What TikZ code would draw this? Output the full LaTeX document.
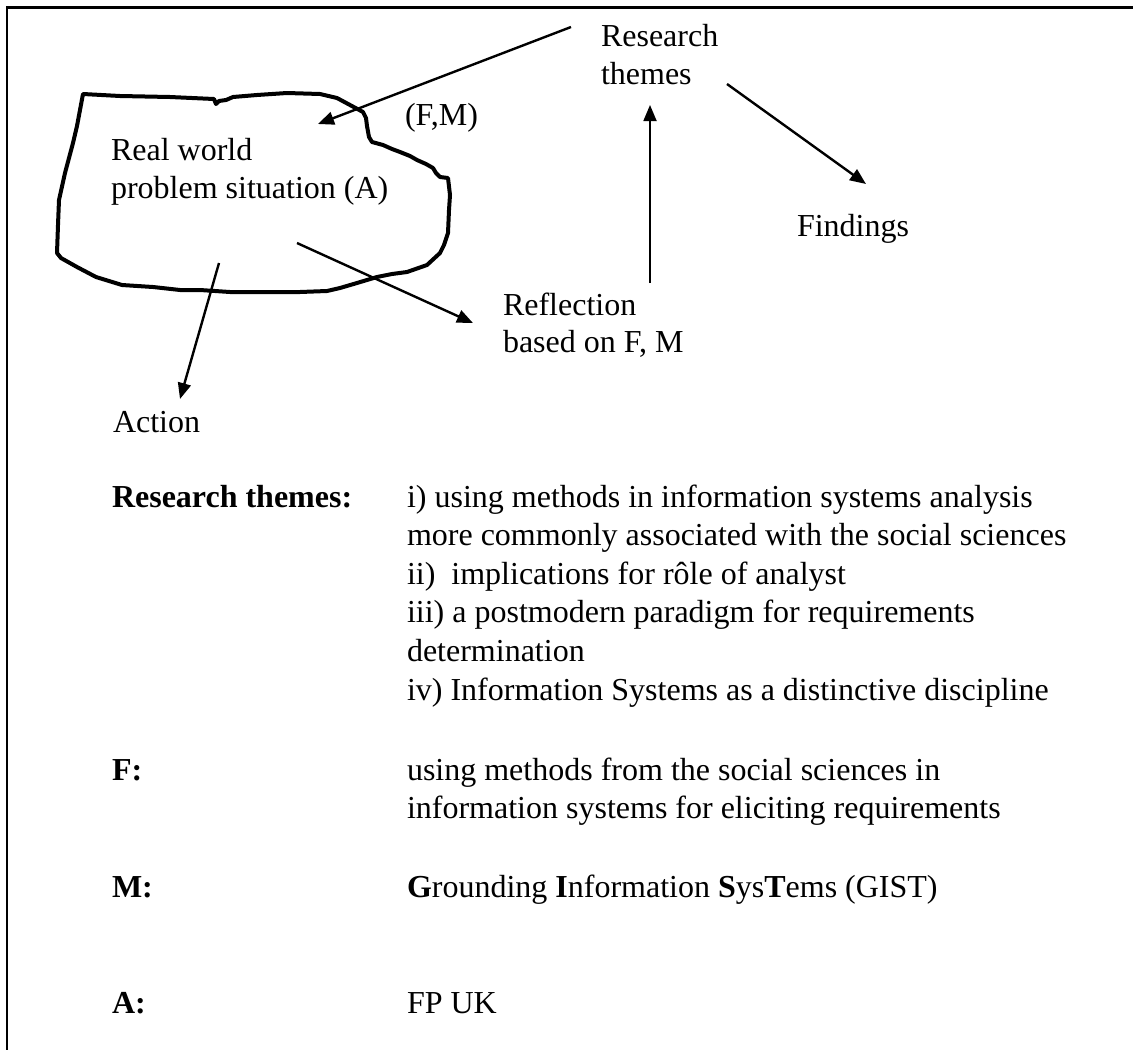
\documentclass[tikz,border=0pt]{standalone}
\usepackage{fontspec}
\setmainfont{Liberation Serif}
\usetikzlibrary{arrows.meta}

\begin{document}
\begin{tikzpicture}[
  x=0.5pt, y=-0.5pt,
  txt/.style={anchor=base west, inner sep=0pt, outer sep=0pt,
              font=\fontsize{16}{19}\selectfont},
  lbl/.style={txt, font=\fontsize{16}{19}\selectfont\bfseries},
  frame/.style={line width=1.3pt},
  blob/.style={line width=2pt, line join=round, line cap=round},
  flow/.style={line width=1.2pt,
               -{Triangle[length=8pt,width=6.5pt]}},
  thin flow/.style={flow, line width=0.9pt}
]
\useasboundingbox (0,0) rectangle (1133,1050);

% open frame: top and left rules only
\draw[frame] (1133,7.5) -- (7,7.5) -- (7,1050);

% hand-drawn outline of the problem situation
\draw[blob] (83,94) -- (120,96) -- (170,97) -- (214,99) -- (216,104) -- (219,101)
  -- (226,100) -- (233,97) -- (257,95) -- (287,93) -- (320,94) -- (337,98)
  -- (350,105) -- (363,112) -- (366,118) -- (367,126) -- (369,137) -- (372,142)
  -- (383,145) -- (392,149) -- (400,152) -- (410,156) -- (417,160) -- (426,164)
  -- (433,168) -- (436,173) -- (440,177) -- (448,178) -- (450,195) -- (449,210)
  -- (448,233) -- (444,245) -- (440,253) -- (427,265) -- (407,272) -- (392,274)
  -- (377,277) -- (357,283) -- (340,288) -- (327,291) -- (300,292) -- (267,292)
  -- (230,292) -- (200,290) -- (180,290) -- (153,287) -- (122,285) -- (96,277)
  -- (77,267) -- (61,258) -- (57,253) -- (58,225) -- (59,200) -- (65,173)
  -- (69,158) -- (73,143) -- (77,126) -- (80,110) -- cycle;

% labels of the diagram
\node[txt] (rthemes1) at (601,46) {Research};
\node[txt] (rthemes2) at (601,84) {themes};
\node[txt] (fm) at (405,125) {(F,M)};
\node[txt] (rw1) at (111,160) {Real world};
\node[txt] (rw2) at (111,198) {problem situation (A)};
\node[txt] (find) at (797,236) {Findings};
\node[txt] (refl1) at (503,315) {Reflection};
\node[txt] (refl2) at (503,352) {based on F, M};
\node[txt] (act) at (113,432) {Action};

% arrow end points
\coordinate (themesOut) at (571,27);
\coordinate (situationIn) at (318,124);
\coordinate (situationOut) at (297,243);
\coordinate (reflIn) at (473,323);
\coordinate (actOut) at (219,263);
\coordinate (actIn) at (180,399);
\coordinate (reflUp) at (650,283);
\coordinate (themesIn) at (650,105);
\coordinate (themesOut2) at (727,84);
\coordinate (findIn) at (866,184);

\draw[flow] (themesOut) -- (situationIn);
\draw[flow] (situationOut) -- (reflIn);
\draw[flow] (actOut) -- (actIn);
\draw[thin flow] (reflUp) -- (themesIn);
\draw[flow] (themesOut2) -- (findIn);

% key
\node[lbl] (kRT) at (112,507) {Research themes:};
\node[txt] (kRT1) at (407,507) {i) using methods in information systems analysis};
\node[txt] (kRT2) at (407,545.6) {more commonly associated with the social sciences};
\node[txt] (kRT3) at (407,584.2) {ii)\ \ implications for rôle of analyst};
\node[txt] (kRT4) at (407,622.8) {iii) a postmodern paradigm for requirements};
\node[txt] (kRT5) at (407,661.4) {determination};
\node[txt] (kRT6) at (407,700) {iv) Information Systems as a distinctive discipline};

\node[lbl] (kF) at (112,780) {F:};
\node[txt] (kF1) at (407,780) {using methods from the social sciences in};
\node[txt] (kF2) at (407,818.6) {information systems for eliciting requirements};

\node[lbl] (kM) at (112,897) {M:};
\node[txt] (kM1) at (407,897) {\textbf{G}rounding \textbf{I}nformation \textbf{S}ys\textbf{T}ems (GIST)};

\node[lbl] (kA) at (112,1013) {A:};
\node[txt] (kA1) at (407,1013) {FP UK};
\end{tikzpicture}
\end{document}
